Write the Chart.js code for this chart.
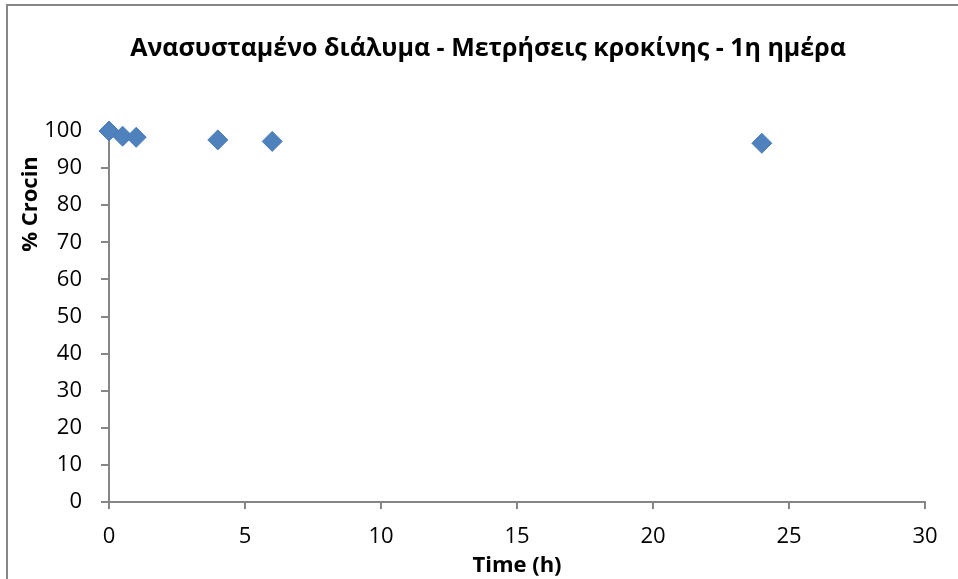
<!DOCTYPE html>
<html>
<head>
<meta charset="utf-8">
<script src="https://cdn.jsdelivr.net/npm/chart.js@4"></script>
<style>
  html, body { margin: 0; padding: 0; background: #fff; }
  #wrap { width: 958px; height: 579px; position: relative; }
</style>
</head>
<body>
<div id="wrap"><canvas id="c" width="958" height="579"></canvas></div>
<script>
const chartTitle = 'Ανασυσταμένο διάλυμα - Μετρήσεις κροκίνης - 1η ημέρα';
const xTitle = 'Time (h)';
const yTitle = '% Crocin';
const timeHours = [0, 0.5, 1, 4, 6, 24];
const crocinPct = [100, 98.6, 98.3, 97.6, 97.2, 96.7];
const xTicks = [0, 5, 10, 15, 20, 25, 30];
const yTicks = [0, 10, 20, 30, 40, 50, 60, 70, 80, 90, 100];

const AXIS = '#868686';
const FONT = "'Open Sans', 'DejaVu Sans', sans-serif";

const framePlugin = {
  id: 'frame',
  afterLayout(chart) {
    // centre the title block the way the reference does
    const t = chart.titleBlock;
    if (t) { t.left = 51; t.right = chart.chartArea.right; }
  },
  beforeDraw(chart) {
    const ctx = chart.ctx;
    ctx.save();
    ctx.fillStyle = '#fff';
    ctx.fillRect(0, 0, chart.width, chart.height);
    ctx.strokeStyle = AXIS;
    ctx.lineWidth = 2;
    ctx.beginPath();
    ctx.moveTo(7, chart.height + 2);
    ctx.lineTo(7, 5);
    ctx.lineTo(chart.width + 2, 5);
    ctx.stroke();
    ctx.restore();
  },
  afterDraw(chart) {
    const ctx = chart.ctx;
    ctx.save();
    ctx.translate(31, 204);
    ctx.rotate(-Math.PI / 2);
    ctx.font = "bold 22px " + FONT;
    ctx.fillStyle = '#000';
    ctx.textAlign = 'center';
    ctx.textBaseline = 'middle';
    ctx.fillText(yTitle, 0, 0);
    ctx.restore();
  }
};

new Chart(document.getElementById('c'), {
  type: 'scatter',
  data: {
    datasets: [{
      label: yTitle,
      data: timeHours.map((x, i) => ({x: x, y: crocinPct[i]})),
      pointStyle: 'rectRot',
      pointRadius: 10,
      pointHoverRadius: 10,
      backgroundColor: '#4f81bd',
      borderColor: '#4a7ebb',
      borderWidth: 1,
      clip: false
    }]
  },
  options: {
    responsive: false,
    animation: false,
    events: [],
    layout: { padding: { left: 10, right: 33, top: 0, bottom: 0 } },
    plugins: {
      legend: { display: false },
      tooltip: { enabled: false },
      title: {
        display: true,
        text: chartTitle,
        color: '#000',
        font: { family: FONT, size: 25, weight: 'bold', lineHeight: 1.2 },
        padding: { top: 34, bottom: 67 }
      }
    },
    scales: {
      x: {
        type: 'linear',
        min: 0, max: 30,
        afterBuildTicks(scale) { scale.ticks = xTicks.map(v => ({value: v})); },
        afterFit(scale) { scale.height = 77; },
        grid: { drawOnChartArea: false, drawTicks: true, tickLength: 7, color: AXIS, lineWidth: 2 },
        border: { display: true, color: AXIS, width: 2 },
        ticks: { color: '#000', font: { family: FONT, size: 22 }, padding: 15, maxRotation: 0 },
        title: {
          display: true, text: xTitle, color: '#000',
          font: { family: FONT, size: 22, weight: 'bold', lineHeight: 1.2 },
          padding: { top: 0, bottom: 0 }
        }
      },
      y: {
        type: 'linear',
        min: 0, max: 100,
        afterBuildTicks(scale) { scale.ticks = yTicks.map(v => ({value: v})); },
        afterFit(scale) { scale.width = 99; },
        grid: { drawOnChartArea: false, drawTicks: true, tickLength: 8, color: AXIS, lineWidth: 2 },
        border: { display: true, color: AXIS, width: 2 },
        ticks: { color: '#000', font: { family: FONT, size: 22 }, padding: 19 }
      }
    }
  },
  plugins: [framePlugin]
});
</script>
</body>
</html>
